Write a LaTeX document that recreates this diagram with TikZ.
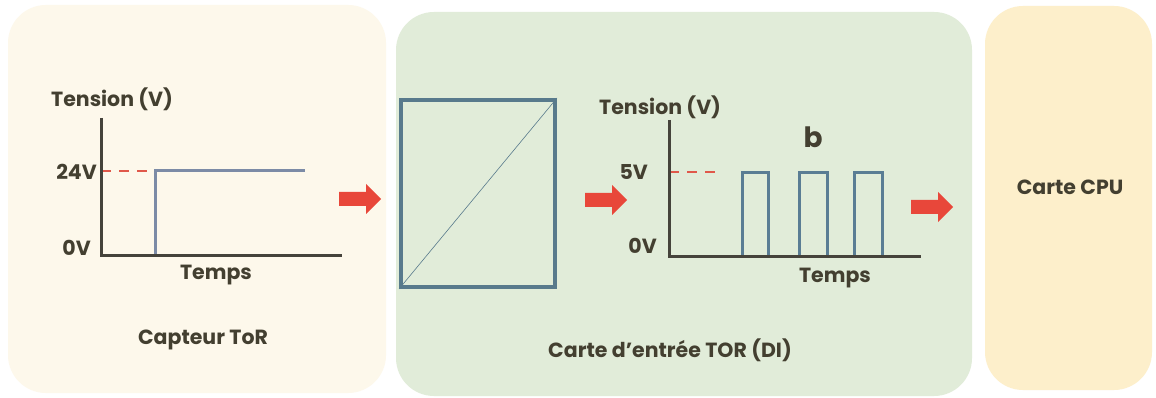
\documentclass[tikz,border=0pt]{standalone}
\usepackage{fontspec}
\newfontfamily\pop{Poppins}
\definecolor{bgA}{HTML}{FDF8EB}
\definecolor{bgB}{HTML}{E1ECD9}
\definecolor{bgC}{HTML}{FDEFCB}
\definecolor{txt}{HTML}{433F30}
\definecolor{axis}{HTML}{45433B}
\definecolor{stepc}{HTML}{7C8BA6}
\definecolor{pulse}{HTML}{5A7D94}
\definecolor{boxc}{HTML}{587A8C}
\definecolor{redc}{HTML}{E8473A}
\definecolor{dashc}{HTML}{E0584A}
\tikzset{
  panel/.style={rounded corners=38pt},
  lbl/.style={font=\pop\bfseries\fontsize{20.5}{24}\selectfont, text=txt, inner sep=0pt},
  axisline/.style={draw=axis, line width=3pt},
  dashline/.style={draw=dashc, line width=2.4pt, dash pattern=on 10pt off 8pt},
  sig/.style={line width=3pt},
  blockarrow/.pic={\fill[redc] (0,-7) -- (27,-7) -- (27,-15) -- (42,0) -- (27,15) -- (27,7) -- (0,7) -- cycle;}
}
\begin{document}
\begin{tikzpicture}[x=1pt,y=-1pt]
\useasboundingbox[fill=white] (0,0) rectangle (1156,398);
% panels
\fill[bgA, panel] (8,5) rectangle (386,393);
\fill[bgB, panel] (396,12) rectangle (972,396);
\fill[bgC, panel] (985,6) rectangle (1152,390);

% ---------- chart 1
\coordinate (o1) at (101,255);
\coordinate (y1) at (101,118);
\coordinate (x1) at (342,255);
\draw[dashline] (101,171) -- (155,171);
\draw[sig, stepc] (155,255) -- (155,171) -- (305,171);
\draw[axisline] (y1) -- (o1) -- (x1);
\node[lbl, anchor=west] (t1) at (51,99) {Tension (V)};
\node[lbl, anchor=east] (v24) at (97,172) {24V};
\node[lbl, anchor=east] (v0a) at (91,248) {0V};
\node[lbl] (tm1) at (216,275) {Temps};
\node[lbl] (cap) at (203,340) {Capteur ToR};

\pic at (339,199) {blockarrow};

% ---------- converter box
\node[draw=boxc, line width=4pt, minimum width=154pt, minimum height=187pt, inner sep=0pt] (conv) at (478,193.5) {};
\draw[boxc, line width=0.6pt] (conv.south west) -- (conv.north east);

\pic at (585,200) {blockarrow};

% ---------- chart 2
\coordinate (o2) at (669,256);
\coordinate (y2) at (669,120);
\coordinate (x2) at (921,256);
\draw[dashline] (669,172) -- (722,172);
\foreach \a/\b in {742/768, 799/827, 854/882}{
  \draw[sig, pulse] (\a,256) -- (\a,173) -- (\b,173) -- (\b,256);
}
\draw[axisline] (y2) -- (o2) -- (x2);
\node[lbl, anchor=west] (t2) at (599,107) {Tension (V)};
\node[lbl, anchor=east] (v5) at (648,172) {5V};
\node[lbl, anchor=east] (v0b) at (657,246) {0V};
\node[lbl, font=\pop\bfseries\fontsize{28}{32}\selectfont] (bl) at (813,137) {b};
\node[lbl] (tm2) at (835,278) {Temps};
\node[lbl] (di) at (670,350) {Carte d’entrée TOR (DI)};

\pic at (911,207) {blockarrow};

% ---------- CPU
\node[lbl] (cpu) at (1070,187) {Carte CPU};
\end{tikzpicture}
\end{document}
